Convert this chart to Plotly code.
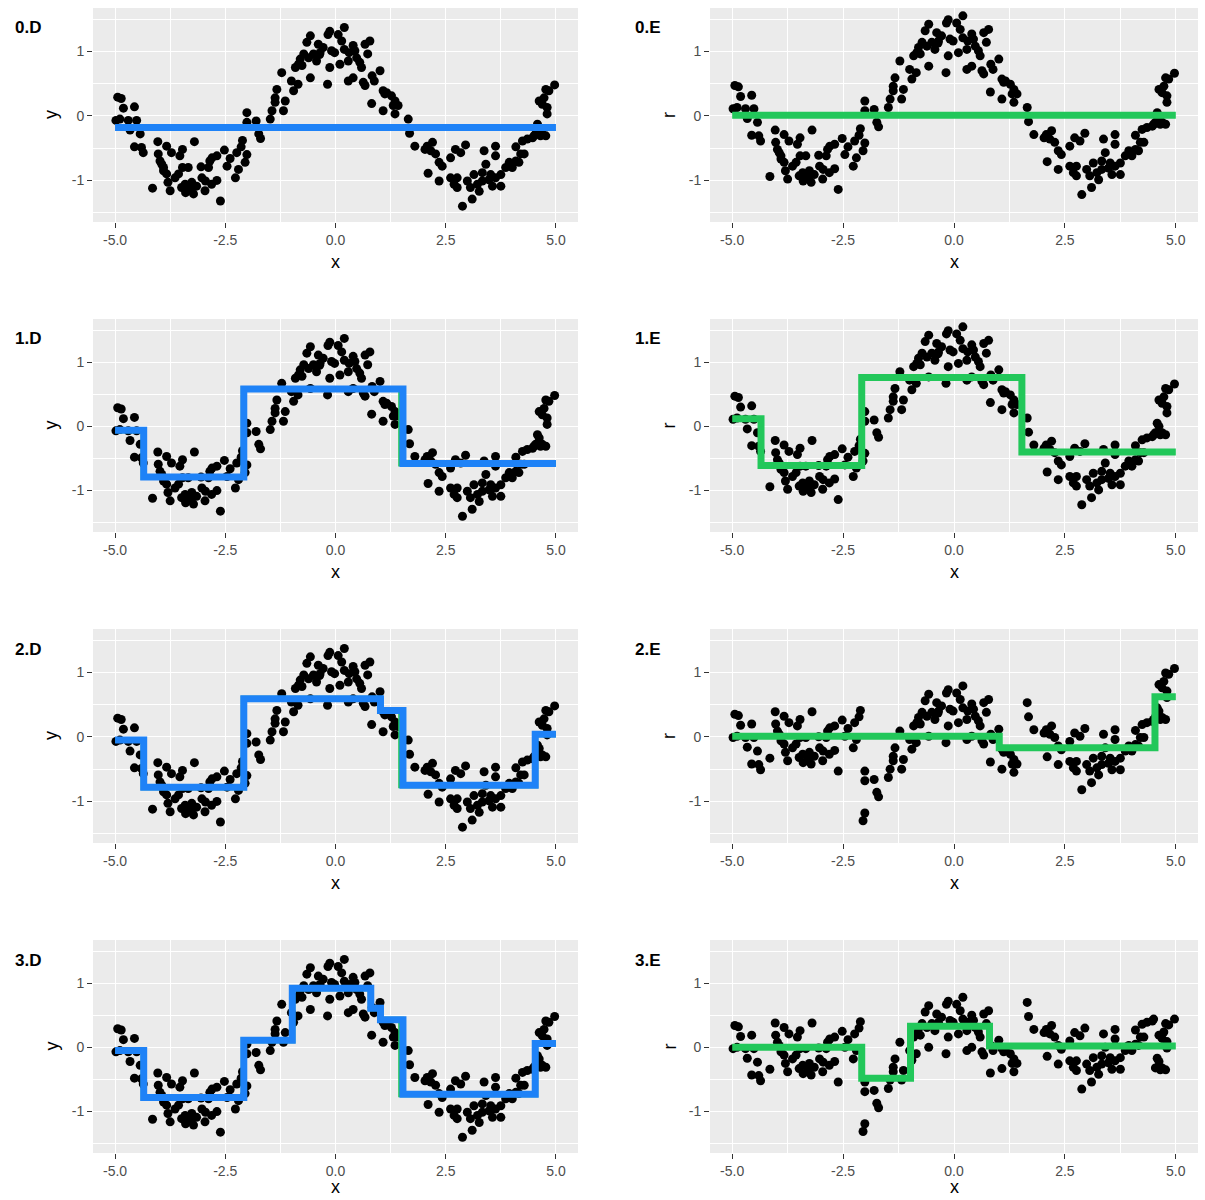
import numpy as np
import plotly.graph_objects as go

# ---------------- data ----------------
x_obs = [-4.94,-4.86,-4.81,-4.56,-4.98,-4.89,-4.70,-4.51,-4.66,-4.43,-4.56,-4.40,-4.36,-4.03,-3.83,-4.02,-3.98,-3.72,-3.47,-3.53,
         -3.20,-3.90,-3.83,-3.80,-3.75,-4.15,-3.56,-3.34,-3.41,-3.40,-3.22,-3.26,-3.05,-3.03,-2.96,-2.85,-2.81,
         -2.61,-2.69,-2.80,-2.69,-2.52,-2.46,-2.39,-2.27,-2.20,-2.01,-2.05,-2.14,-2.11,-2.01,-2.01,-1.80,-1.74,-1.70,
         -1.48,-1.44,-1.37,-1.33,-1.37,-1.18,-1.14,-1.22,-1.00,-0.95,-0.85,-0.91,-0.80,-0.76,-0.61,-0.57,-0.65,-0.57,-0.50,-0.35,
         -0.17,-0.13,0.06,0.20,-0.39,-0.28,-0.43,-0.09,-0.02,-0.13,0.10,0.20,0.31,0.40,0.48,0.55,0.67,0.78,0.73,0.59,
         -0.18,0.29,0.40,0.63,0.67,0.83,0.88,1.01,0.82,1.08,1.16,1.27,1.35,1.08,1.35,1.42,1.65,1.68,1.80,
         2.08,2.20,2.16,2.27,2.35,2.42,2.10,2.35,2.61,2.72,2.84,2.95,2.61,2.69,2.76,2.88,3.10,3.14,3.26,3.33,
         3.37,3.41,3.52,3.56,3.63,3.63,3.75,3.75,3.86,3.94,4.09,4.16,4.09,4.20,4.28,4.24,4.35,4.47,4.54,4.65,
         4.77,4.62,4.58,4.69,4.62,4.73,4.80,4.80,4.77,4.84,4.97,
         -3.49,-3.30,-3.15,-3.64,-3.94,-3.90,-3.47,-2.88,-2.95,-2.24,-0.84,-0.72,-0.36,0.14,0.29,0.44,1.12,1.31,2.03,
         2.76,2.99,3.22,3.48,3.63,3.06,3.33,4.01,4.50,4.69]
y_obs = [0.29,0.27,0.12,0.14,-0.07,-0.05,-0.07,-0.07,-0.22,-0.28,-0.48,-0.49,-0.57,-0.40,-0.47,-0.59,-0.70,-0.57,-0.52,-0.62,
         -0.40,-0.80,-0.90,-1.03,-1.16,-1.12,-0.90,-0.80,-1.06,-1.19,-1.21,-1.03,-0.79,-0.96,-1.16,-0.70,-1.06,
         -1.32,-1.00,-0.65,-0.62,-0.53,-0.78,-0.66,-0.96,-0.83,-0.60,-0.72,-0.48,-0.38,0.05,-0.10,-0.08,-0.28,-0.35,
         -0.05,0.08,0.21,0.41,0.28,0.08,0.23,0.67,0.54,0.39,0.49,0.75,0.88,0.78,0.90,0.59,1.14,1.24,0.96,0.98,
         1.26,1.31,1.26,1.37,1.11,1.06,0.85,1.01,0.98,0.75,0.80,1.03,0.98,1.09,0.90,0.83,1.11,1.16,0.96,0.75,
         0.49,0.54,0.59,0.52,0.47,0.62,0.54,0.70,0.19,0.39,0.36,0.31,0.23,0.08,0.03,0.16,-0.05,-0.27,-0.47,
         -0.47,-0.41,-0.54,-0.59,-0.72,-0.78,-0.89,-1.01,-0.65,-0.52,-0.57,-0.45,-0.96,-1.06,-1.11,-1.40,-1.29,-0.91,-1.17,-1.01,
         -0.54,-0.75,-0.91,-1.09,-0.47,-0.62,-1.09,-0.91,-0.80,-0.72,-0.70,-0.72,-0.48,-0.59,-0.59,-0.39,-0.36,-0.34,-0.28,-0.31,
         -0.31,-0.18,-0.13,0.18,0.23,0.28,0.03,0.13,0.41,0.39,0.48,
         -1.11,-1.14,-1.09,-0.96,-0.75,-0.85,-0.80,-0.80,-1.01,-0.57,0.80,0.96,0.95,1.16,0.85,1.01,0.34,0.16,-0.52,
         -0.96,-1.01,-1.06,-0.99,-0.96,-1.11,-0.88,-0.80,-0.31,-0.28]

# step fits: break points and levels, one set per panel
breaks_0D = []
levels_0D = [-0.18]
breaks_0E = []
levels_0E = [0.01]
breaks_1D = [-4.35, -2.08, 1.53]
levels_1D = [-0.06, -0.79, 0.58, -0.58]
breaks_1E = [-4.35, -2.08, 1.53]
levels_1E = [0.12, -0.61, 0.76, -0.40]
breaks_2D = [-4.35, -2.08, 1.02, 1.53, 4.53]
levels_2D = [-0.05, -0.78, 0.59, 0.41, -0.75, 0.04]
breaks_2E = [1.02, 4.53]
levels_2E = [0.01, -0.17, 0.62]
breaks_3D = [-4.35, -2.08, -0.98, 0.80, 1.02, 1.53, 4.53]
levels_3D = [-0.05, -0.78, 0.11, 0.92, 0.61, 0.43, -0.73, 0.06]
breaks_3E = [-2.08, -0.98, 0.80]
levels_3E = [0.0, -0.48, 0.33, 0.02]
# thin green edge peeking out beside the blue drop near x = 1.5 in the D panels
green_edge_break = 1.49

panel_titles = ["0.D", "0.E", "1.D", "1.E", "2.D", "2.E", "3.D", "3.E"]
x_ticks = [-5.0, -2.5, 0.0, 2.5, 5.0]
x_tick_labels = ["-5.0", "-2.5", "0.0", "2.5", "5.0"]
y_ticks = [-1, 0, 1]
y_tick_labels = ["-1", "0", "1"]

BLUE = "#1E82F7"
GREEN = "#22C75A"

x_arr = np.array(x_obs)
y_arr = np.array(y_obs)


def step_eval(breaks, levels, xv):
    idx = np.searchsorted(np.array(breaks), xv, side="right")
    return np.array(levels)[idx]


def step_path(breaks, levels):
    xs = [-5.0] + list(breaks) + [5.0]
    ys = list(levels) + [levels[-1]]
    return xs, ys


# residuals used in the E panels (y minus the D fit of the previous stage)
r0 = y_arr - step_eval(breaks_0D, levels_0D, x_arr)
r1 = r0
r2 = y_arr - step_eval(breaks_1D, levels_1D, x_arr)
r3 = y_arr - step_eval(breaks_2D, levels_2D, x_arr)

panels = [
    (y_arr, breaks_0D, levels_0D, BLUE, "y"),
    (r0, breaks_0E, levels_0E, GREEN, "r"),
    (y_arr, breaks_1D, levels_1D, BLUE, "y"),
    (r1, breaks_1E, levels_1E, GREEN, "r"),
    (y_arr, breaks_2D, levels_2D, BLUE, "y"),
    (r2, breaks_2E, levels_2E, GREEN, "r"),
    (y_arr, breaks_3D, levels_3D, BLUE, "y"),
    (r3, breaks_3E, levels_3E, GREEN, "r"),
]

W, H = 1205, 1200
col_px = [(93, 578), (710, 1198)]
row_px = [(8, 222), (319, 532), (629, 843), (940, 1153)]

fig = go.Figure()
annotations = []
layout = {}
FONT = "Liberation Sans, Arial, Helvetica, sans-serif"

for i, (yy, br, lv, col, ylab) in enumerate(panels):
    r, c = divmod(i, 2)
    n = i + 1
    xa = "x" if n == 1 else f"x{n}"
    ya = "y" if n == 1 else f"y{n}"
    x0, x1 = col_px[c]
    t, b = row_px[r]
    fig.add_trace(go.Scatter(x=x_arr, y=yy, mode="markers", xaxis=xa, yaxis=ya,
                             marker=dict(color="black", size=9, line=dict(width=0)),
                             showlegend=False, hoverinfo="skip"))
    if c == 0 and 1.53 in br:
        gbr = [green_edge_break if v == 1.53 else v for v in br]
        gx, gy = step_path(gbr, lv)
        fig.add_trace(go.Scatter(x=gx, y=gy, mode="lines", line_shape="hv", xaxis=xa, yaxis=ya,
                                 line=dict(color=GREEN, width=6), showlegend=False, hoverinfo="skip"))
    sx, sy = step_path(br, lv)
    fig.add_trace(go.Scatter(x=sx, y=sy, mode="lines", line_shape="hv", xaxis=xa, yaxis=ya,
                             line=dict(color=col, width=7), showlegend=False, hoverinfo="skip"))
    common = dict(showline=False, zeroline=False, showgrid=True, gridcolor="white", gridwidth=1.2,
                  ticks="outside", ticklen=5, tickwidth=1.2, tickcolor="#333333",
                  tickfont=dict(family=FONT, size=14, color="#4D4D4D"), fixedrange=True)
    layout["xaxis" if n == 1 else f"xaxis{n}"] = dict(
        domain=[x0 / W, x1 / W], anchor=ya, range=[-5.5, 5.5],
        tickmode="array", tickvals=x_ticks, ticktext=x_tick_labels,
        minor=dict(showgrid=True, gridcolor="white", gridwidth=0.6, dtick=1.25, tick0=-5),
        **common)
    layout["yaxis" if n == 1 else f"yaxis{n}"] = dict(
        domain=[1 - b / H, 1 - t / H], anchor=xa, range=[-1.645, 1.672],
        tickmode="array", tickvals=y_ticks, ticktext=y_tick_labels,
        minor=dict(showgrid=True, gridcolor="white", gridwidth=0.6, dtick=0.5, tick0=-1.5),
        **common)
    # panel tag
    tag_x = 13 if c == 0 else 633
    annotations.append(dict(text=f"<b>{panel_titles[i]}</b>", xref="paper", yref="paper",
                            x=tag_x / W, y=1 - (t + 20) / H, xanchor="left", yanchor="middle",
                            showarrow=False, font=dict(family=FONT, size=17, color="black")))
    # axis titles
    if r < 3:
        xt = dict(y=1 - (b + 40) / H, yanchor="middle")
    else:
        xt = dict(y=1 - 1199 / H, yanchor="bottom")
    annotations.append(dict(text="x", xref="paper", yref="paper", x=(x0 + x1) / 2 / W,
                            xanchor="center", showarrow=False,
                            font=dict(family=FONT, size=18, color="black"), **xt))
    ylab_x = 51 if c == 0 else 669
    annotations.append(dict(text=ylab, xref="paper", yref="paper", x=ylab_x / W,
                            y=1 - ((t + b) / 2) / H, xanchor="center", yanchor="middle",
                            textangle=-90, showarrow=False,
                            font=dict(family=FONT, size=18, color="black")))

fig.update_layout(width=W, height=H, margin=dict(l=0, r=0, t=0, b=0),
                  paper_bgcolor="white", plot_bgcolor="#EBEBEB",
                  annotations=annotations, **layout)

fig.write_html("out.html")
